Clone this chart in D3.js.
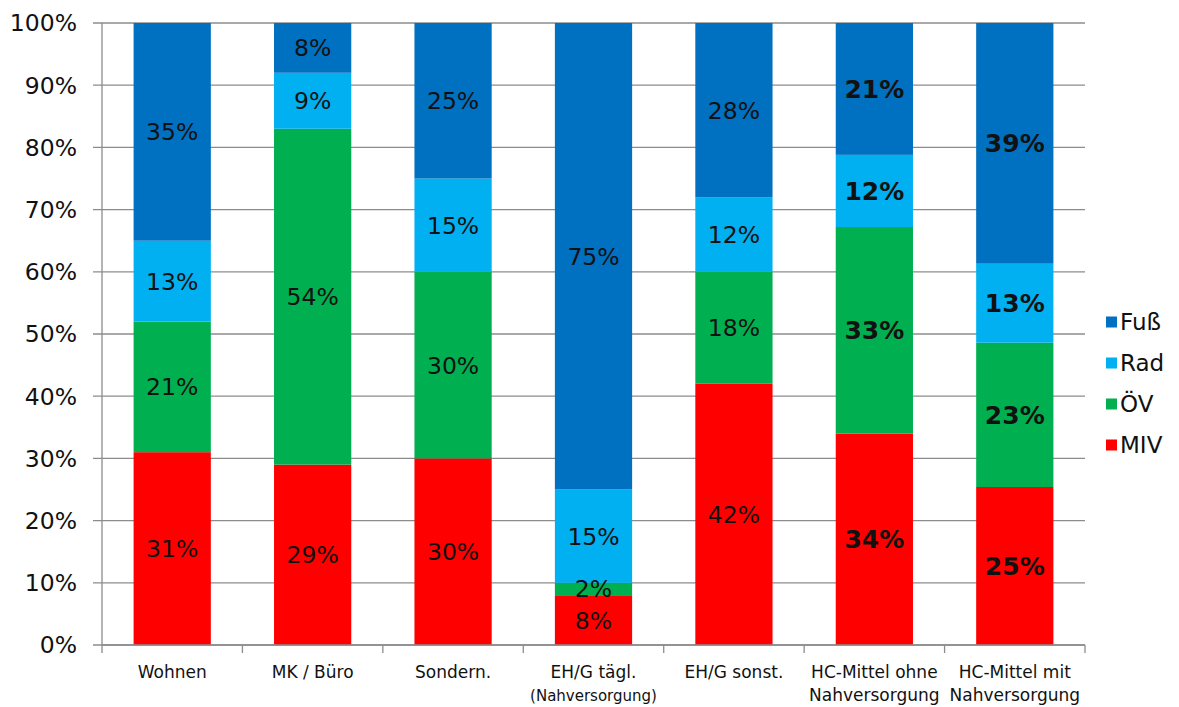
<!DOCTYPE html>
<html><head><meta charset="utf-8">
<script src="https://cdn.jsdelivr.net/npm/d3@7"></script>
<style>body{margin:0;background:#fff}svg{display:block}text{font-family:"DejaVu Sans",Verdana,sans-serif}</style>
</head><body><svg id="c" width="1179" height="707"></svg>
<script>
const categories = ["Wohnen","MK / Büro","Sondern.","EH/G tägl.","EH/G sonst.","HC-Mittel ohne","HC-Mittel mit"];
const categorySub = ["","","","(Nahversorgung)","","Nahversorgung","Nahversorgung"];
const seriesNames = ["MIV","ÖV","Rad","Fuß"];
const MIV = [31,29,30,8,42,34,25.4];
const OEV = [21,54,30,2,18,33.2,23.2];
const Rad = [13,9,15,15,12,11.6,12.7];
const Fuss = [35,8,25,75,28,21.2,38.7];
const labelMIV = ["31%","29%","30%","8%","42%","34%","25%"];
const labelOEV = ["21%","54%","30%","2%","18%","33%","23%"];
const labelRad = ["13%","9%","15%","15%","12%","12%","13%"];
const labelFuss = ["35%","8%","25%","75%","28%","21%","39%"];
const boldCats = [false,false,false,false,false,true,true];
const yTicks = [0,10,20,30,40,50,60,70,80,90,100];
const colors = {"MIV":"#ff0000","ÖV":"#00b050","Rad":"#00b0f0","Fuß":"#0070c0"};

const svg = d3.select("#c");
const L=102,R=1085,T=23,B=645;
const x = d3.scaleBand().domain(categories).range([L,R]).paddingInner(0.45).paddingOuter(0.225);
const xb = d3.scaleBand().domain(categories).range([L,R]);
const y = d3.scaleLinear().domain([0,100]).range([B,T]);

// grid
svg.append("g").selectAll("line").data(yTicks).join("line")
  .attr("x1",L-9).attr("x2",R).attr("y1",d=>y(d)).attr("y2",d=>y(d))
  .attr("stroke","#8c8c8c").attr("stroke-width",1.3);
svg.append("g").selectAll("text").data(yTicks).join("text")
  .attr("x",77).attr("y",d=>y(d)).attr("dy","0.36em").attr("text-anchor","end")
  .attr("font-size",23.5).attr("fill","#111").text(d=>d+"%");

const rows = categories.map((c,i)=>({cat:c,"MIV":MIV[i],"ÖV":OEV[i],"Rad":Rad[i],"Fuß":Fuss[i]}));
const labels = {"MIV":labelMIV,"ÖV":labelOEV,"Rad":labelRad,"Fuß":labelFuss};
const stack = d3.stack().keys(seriesNames)(rows);
const g = svg.append("g");
stack.forEach(s=>{
  g.append("g").selectAll("rect").data(s).join("rect")
    .attr("x",d=>x(d.data.cat)).attr("width",x.bandwidth())
    .attr("y",d=>y(d[1])).attr("height",d=>y(d[0])-y(d[1]))
    .attr("fill",colors[s.key]);
});
stack.forEach(s=>{
  g.append("g").selectAll("text").data(s).join("text")
    .attr("x",d=>x(d.data.cat)+x.bandwidth()/2)
    .attr("y",d=>y((d[0]+d[1])/2)).attr("dy","0.36em").attr("text-anchor","middle")
    .attr("font-size",(d,i)=>boldCats[i]?25:23.5).attr("fill","#111")
    .attr("font-weight",(d,i)=>boldCats[i]?"bold":"normal")
    .text((d,i)=>labels[s.key][i]);
});

// axes
svg.append("line").attr("x1",L).attr("x2",L).attr("y1",T).attr("y2",B).attr("stroke","#8c8c8c").attr("stroke-width",1.3);
svg.append("line").attr("x1",L).attr("x2",R).attr("y1",B).attr("y2",B).attr("stroke","#8c8c8c").attr("stroke-width",1.3);
const bounds = categories.map(c=>xb(c)).concat([R]);
svg.append("g").selectAll("line").data(bounds).join("line")
  .attr("x1",d=>d).attr("x2",d=>d).attr("y1",B).attr("y2",B+8).attr("stroke","#8c8c8c").attr("stroke-width",1.3);

// category labels
const cl = svg.append("g");
categories.forEach((c,i)=>{
  const cx = xb(c)+xb.bandwidth()/2;
  cl.append("text").attr("x",cx).attr("y",678).attr("text-anchor","middle").attr("font-size",17).attr("fill","#111").text(c);
  if(categorySub[i]){
    const small = categorySub[i].startsWith("(");
    cl.append("text").attr("x",cx).attr("y",701).attr("text-anchor","middle")
      .attr("font-size",small?15:17).attr("fill","#111").text(categorySub[i]);
  }
});

// legend
const legendOrder = ["Fuß","Rad","ÖV","MIV"];
const lg = svg.append("g");
legendOrder.forEach((k,i)=>{
  const yy = 322 + i*41;
  lg.append("rect").attr("x",1106).attr("y",yy-5.5).attr("width",11).attr("height",11).attr("fill",colors[k]);
  lg.append("text").attr("x",1120).attr("y",yy).attr("dy","0.36em").attr("font-size",23).attr("fill","#111").text(k);
});
</script></body></html>
